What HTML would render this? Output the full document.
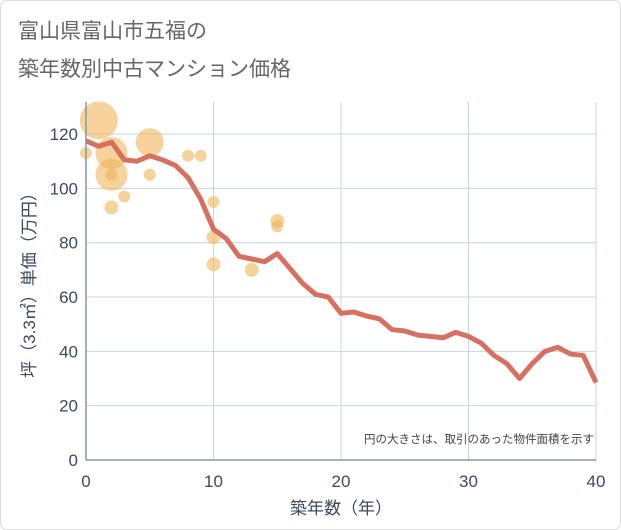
<!DOCTYPE html>
<html><head><meta charset="utf-8"><style>
body{margin:0;background:#fff;}
svg{display:block;font-family:"Liberation Sans","Noto Sans CJK JP",sans-serif;}
</style></head><body>
<svg width="621" height="530" viewBox="0 0 621 530">
<rect x="0.5" y="0.5" width="620" height="529" rx="6" fill="#fff" stroke="#ddd"/>
<text x="18" y="38" font-size="21" fill="#666">富山県富山市五福の</text>
<text x="18" y="76" font-size="21" fill="#666">築年数別中古マンション価格</text>
<g id="grid"></g>
<g id="bubbles"></g>
<path id="line" fill="none" stroke="#d4695a" stroke-width="5" stroke-linejoin="round" opacity="0.95"/>
<g id="axes"></g>
<text x="594" y="443" font-size="11.5" fill="#444" text-anchor="end">円の大きさは、取引のあった物件面積を示す</text>
<text x="341" y="514" font-size="17" fill="#3d4a5c" text-anchor="middle">築年数（年）</text>
<text transform="translate(35,281) rotate(-90)" font-size="17" fill="#3d4a5c" text-anchor="middle">坪（3.3㎡）単価（万円）</text>
</svg>
<script>
const xTicks=[0,10,20,30,40];
const yTicks=[0,20,40,60,80,100,120];
const lineYears=[0,1,2,3,4,5,6,7,8,9,10,11,12,13,14,15,16,17,18,19,20,21,22,23,24,25,26,27,28,29,30,31,32,33,34,35,36,37,38,39,40];
const linePrices=[117.5,115.5,117,110.5,110,112,110.5,108.5,104,96,85,81.5,75,74,73,76,70.5,65,61,60,54,54.5,53,52,48,47.5,46,45.5,45,47,45.5,43,38.5,35.5,30,35.5,40,41.5,39,38.5,28.5];
const bubbleYears=[1,0,2,2,2,2,3,5,5,8,9,10,10,10,13,15,15];
const bubblePrices=[125,113,113,105,105,93,97,117,105,112,112,95,82,72,70,88,86];
const bubbleSizes=[19,6,16,16,6,7,6,14,6,6,6,6,7,7,7,7,6];
const L=86,R=596,T=102,B=460,XMAX=40,YMAX=131.8;
const sx=v=>L+(R-L)*v/XMAX, sy=v=>B-(B-T)*v/YMAX;
const NS="http://www.w3.org/2000/svg";
function mk(t,a,p){const e=document.createElementNS(NS,t);for(const k in a)e.setAttribute(k,a[k]);p.appendChild(e);return e;}
const grid=document.getElementById('grid'),axes=document.getElementById('axes');
xTicks.forEach(v=>{const l=mk('line',{x1:sx(v),x2:sx(v),y1:T,y2:B,stroke:'#c8d4e0','stroke-width':1},grid);


const t=mk('text',{x:sx(v),y:B+27,'font-size':17,fill:'#3d4a5c','text-anchor':'middle'},axes);t.textContent=v;

});
yTicks.forEach(v=>{const l=mk('line',{x1:L,x2:R,y1:sy(v),y2:sy(v),stroke:'#c8d4e0','stroke-width':1},grid);


const t=mk('text',{x:L-8,y:sy(v)+6,'font-size':17,fill:'#3d4a5c','text-anchor':'end'},axes);t.textContent=v;

});
const ax=mk('line',{x1:L,x2:L,y1:T,y2:B,stroke:'#8a96a3','stroke-width':1.5},axes);


const bx=mk('line',{x1:L,x2:R,y1:B,y2:B,stroke:'#8a96a3','stroke-width':1.5},axes);


const bg=document.getElementById('bubbles');
bubbleYears.forEach((yr,i)=>{const c=mk('circle',{cx:sx(yr),cy:sy(bubblePrices[i]),r:bubbleSizes[i],fill:'#f0b45a','fill-opacity':0.6},bg);

});
document.getElementById('line').setAttribute('d',lineYears.map((y,i)=>(i?'L':'M')+sx(y)+','+sy(linePrices[i])).join(''));
</script>
</body></html>
